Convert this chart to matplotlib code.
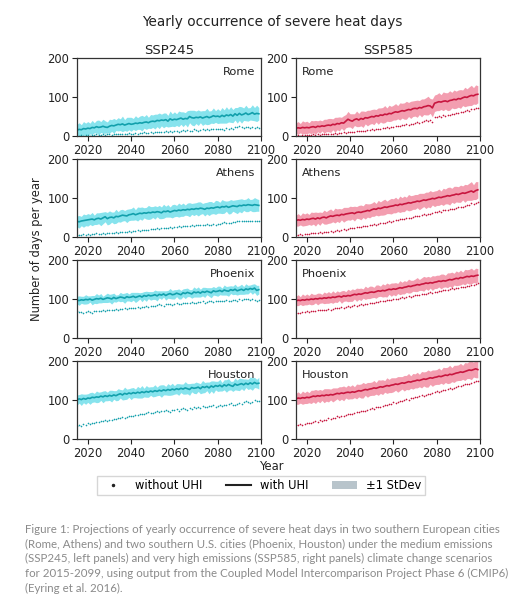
import numpy as np
import matplotlib
matplotlib.use("Agg")
import matplotlib.pyplot as plt
from matplotlib.lines import Line2D
from matplotlib.patches import Patch

# Years 2015-2099
years = np.arange(2015, 2100)

cities = ["Rome", "Athens", "Phoenix", "Houston"]
scenarios = ["SSP245", "SSP585"]

# ---- SSP245 ----
rome_245_uhi = [15, 17, 16, 19, 18,
                20, 19, 22, 21, 24, 22, 23, 25, 23, 22,
                25, 27, 26, 28, 30, 29, 31, 28, 30, 32,
                30, 31, 33, 32, 34, 33, 35, 36, 34, 37,
                38, 37, 40, 39, 41, 40, 42, 38, 44, 41,
                43, 42, 44, 46, 43, 45, 44, 50, 47, 46,
                48, 47, 49, 46, 48, 50, 47, 49, 52, 50,
                51, 49, 53, 50, 54, 52, 55, 51, 57, 53,
                58, 54, 56, 59, 55, 57, 60, 56, 58, 57]
rome_245_no = [1, 0, 2, 1, 3,
               2, 1, 3, 2, 4, 3, 2, 4, 3, 5,
               4, 3, 5, 4, 6, 5, 4, 6, 5, 7,
               6, 5, 7, 6, 8, 7, 9, 8, 7, 9,
               8, 10, 9, 11, 9, 10, 12, 11, 13, 10,
               12, 14, 11, 13, 15, 12, 16, 14, 13, 17,
               15, 14, 16, 18, 15, 17, 16, 19, 17, 18,
               17, 19, 18, 16, 20, 18, 21, 19, 24, 22,
               26, 23, 21, 24, 22, 20, 23, 21, 22, 21]
rome_245_sd = [15, 17, 13, 18, 15,
               17, 14, 18, 13, 16, 19, 14, 18, 16, 14,
               18, 15, 19, 14, 17, 15, 20, 14, 18, 16,
               18, 14, 19, 15, 17, 20, 15, 19, 14, 18,
               16, 19, 16, 20, 15, 19, 17, 15, 20, 16,
               19, 15, 20, 16, 19, 15, 21, 16, 19, 20,
               16, 20, 15, 19, 17, 21, 17, 16, 20, 15,
               19, 16, 20, 17, 21, 16, 20, 17, 16, 20,
               18, 21, 16, 20, 17, 16, 20, 17, 21, 16]

athens_245_uhi = [40, 39, 41, 42, 43,
                  44, 45, 46, 44, 47, 48, 46, 49, 52, 47,
                  50, 51, 49, 53, 52, 54, 56, 55, 54, 57,
                  58, 60, 57, 59, 61, 60, 62, 61, 63, 62,
                  64, 63, 65, 64, 62, 66, 65, 67, 64, 66,
                  68, 67, 69, 68, 70, 69, 71, 70, 72, 71,
                  73, 72, 74, 73, 71, 74, 73, 75, 74, 76,
                  77, 75, 78, 77, 79, 76, 78, 80, 79, 78,
                  81, 80, 82, 81, 83, 82, 81, 83, 82, 81]
athens_245_no = [5, 6, 5, 7, 6,
                 7, 6, 8, 7, 9, 8, 7, 9, 8, 10,
                 9, 11, 10, 12, 11, 13, 12, 14, 13, 15,
                 14, 16, 15, 17, 16, 18, 17, 19, 18, 20,
                 21, 20, 22, 21, 23, 22, 24, 23, 25, 24,
                 26, 25, 27, 26, 28, 27, 29, 28, 30, 29,
                 31, 30, 32, 31, 30, 33, 32, 31, 33, 32,
                 34, 33, 36, 38, 35, 37, 36, 39, 38, 40,
                 41, 40, 42, 41, 40, 42, 41, 40, 41, 40]
athens_245_sd = [14, 16, 12, 17, 14,
                 16, 13, 17, 12, 15, 14, 17, 15, 13, 16,
                 17, 13, 15, 18, 13, 16, 15, 13, 17, 15,
                 15, 17, 13, 18, 15, 17, 13, 15, 18, 16,
                 14, 17, 13, 17, 15, 18, 14, 16, 13, 17,
                 16, 14, 18, 15, 17, 13, 16, 18, 14, 16,
                 15, 18, 16, 13, 17, 15, 18, 16, 14, 18,
                 16, 14, 18, 16, 13, 17, 18, 14, 16, 18,
                 16, 18, 14, 16, 18, 14, 16, 18, 16, 15]

phoenix_245_uhi = [97, 96, 98, 97, 99,
                   98, 100, 97, 99, 101, 100, 102, 99, 101, 103,
                   102, 100, 104, 101, 103, 105, 104, 102, 106, 104,
                   105, 107, 104, 106, 108, 105, 109, 107, 110, 108,
                   109, 111, 108, 112, 110, 113, 109, 112, 114, 111,
                   112, 115, 113, 111, 116, 114, 117, 115, 113, 118,
                   116, 118, 115, 119, 117, 120, 118, 116, 121, 119,
                   120, 122, 119, 123, 121, 120, 124, 122, 125, 121,
                   123, 125, 122, 126, 124, 127, 125, 128, 122, 124]
phoenix_245_no = [68, 66, 67, 65, 66,
                  68, 67, 65, 69, 68, 70, 69, 71, 70, 72,
                  71, 73, 72, 74, 73, 75, 74, 76, 75, 77,
                  76, 78, 77, 79, 78, 80, 79, 81, 80, 82,
                  83, 82, 84, 86, 85, 83, 87, 86, 88, 85,
                  87, 89, 86, 88, 90, 89, 91, 90, 92, 91,
                  90, 93, 92, 94, 91, 93, 95, 94, 92, 96,
                  95, 94, 96, 95, 97, 96, 94, 97, 98, 96,
                  99, 98, 100, 101, 99, 98, 100, 97, 96, 97]
phoenix_245_sd = [10, 12, 9, 10, 12,
                  10, 8, 12, 10, 13, 10, 12, 8, 10, 12,
                  10, 13, 11, 9, 8, 12, 10, 13, 11, 9,
                  12, 10, 13, 11, 8, 12, 10, 13, 9, 11,
                  10, 12, 13, 9, 11, 8, 12, 10, 13, 11,
                  12, 9, 13, 11, 10, 13, 11, 9, 11, 13,
                  11, 13, 10, 11, 13, 9, 11, 13, 11, 10,
                  13, 11, 9, 13, 11, 13, 10, 11, 13, 11,
                  11, 13, 10, 13, 11, 9, 13, 11, 13, 11]

houston_245_uhi = [100, 103, 101, 104, 102,
                   105, 104, 107, 106, 108, 107, 110, 108, 111, 109,
                   112, 110, 113, 111, 114, 116, 113, 117, 115, 118,
                   116, 119, 117, 120, 118, 121, 119, 122, 120, 123,
                   121, 124, 122, 125, 123, 126, 124, 127, 125, 128,
                   126, 129, 127, 130, 128, 131, 129, 127, 132, 130,
                   131, 133, 129, 134, 132, 135, 131, 136, 133, 137,
                   135, 138, 134, 139, 136, 140, 137, 135, 141, 138,
                   140, 142, 139, 143, 140, 144, 141, 145, 142, 143]
houston_245_no = [33, 36, 34, 38, 36,
                  40, 38, 42, 41, 44, 43, 46, 45, 48, 47,
                  50, 48, 52, 51, 54, 53, 56, 55, 57, 59,
                  58, 60, 62, 61, 63, 65, 64, 66, 68, 67,
                  66, 69, 71, 70, 72, 71, 74, 73, 70, 75,
                  74, 76, 73, 77, 79, 78, 75, 80, 78, 81,
                  80, 82, 79, 84, 83, 81, 85, 84, 86, 83,
                  85, 87, 84, 88, 86, 89, 92, 88, 86, 90,
                  93, 91, 95, 98, 94, 92, 96, 99, 97, 98]
houston_245_sd = [13, 11, 15, 11, 13,
                  11, 15, 13, 11, 15, 13, 11, 15, 13, 11,
                  13, 15, 11, 13, 15, 11, 13, 16, 13, 11,
                  15, 13, 11, 15, 13, 16, 11, 15, 13, 11,
                  13, 15, 11, 13, 16, 13, 11, 15, 13, 15,
                  11, 13, 15, 11, 13, 16, 13, 15, 11, 13,
                  15, 11, 13, 16, 13, 11, 15, 13, 16, 11,
                  13, 15, 11, 13, 16, 15, 11, 13, 15, 13,
                  16, 13, 15, 11, 13, 15, 16, 13, 11, 15]

# ---- SSP585 ----
rome_585_uhi = [20, 21, 20, 22, 21,
                22, 21, 23, 24, 22, 25, 24, 26, 25, 27,
                28, 27, 30, 29, 32, 31, 34, 33, 38, 43,
                40, 38, 42, 44, 41, 45, 43, 47, 46, 48,
                50, 49, 52, 51, 54, 53, 56, 55, 58, 57,
                60, 62, 61, 63, 65, 64, 66, 68, 67, 70,
                71, 70, 73, 72, 75, 76, 78, 77, 72, 84,
                86, 88, 87, 89, 90, 88, 91, 92, 94, 93,
                96, 95, 98, 100, 99, 102, 104, 103, 106, 107]
rome_585_no = [1, 2, 1, 2, 3,
               2, 3, 2, 4, 3, 4, 3, 5, 4, 5,
               4, 6, 5, 7, 6, 8, 7, 9, 8, 10,
               9, 11, 10, 12, 13, 12, 14, 13, 15, 16,
               17, 16, 18, 19, 18, 20, 21, 22, 21, 23,
               24, 25, 26, 25, 27, 28, 30, 29, 31, 32,
               33, 35, 34, 37, 38, 40, 39, 42, 36, 50,
               48, 51, 50, 53, 52, 55, 54, 57, 56, 59,
               60, 62, 61, 64, 66, 65, 70, 68, 71, 73]
rome_585_sd = [14, 16, 12, 17, 15,
               16, 13, 17, 15, 18, 14, 17, 13, 18, 16,
               17, 18, 14, 19, 16, 18, 14, 19, 17, 20,
               17, 19, 15, 20, 17, 19, 21, 16, 20, 18,
               18, 20, 16, 21, 18, 20, 22, 17, 21, 19,
               19, 21, 17, 22, 19, 21, 23, 18, 22, 20,
               20, 22, 18, 23, 20, 22, 24, 19, 23, 21,
               21, 23, 19, 24, 21, 23, 25, 20, 24, 22,
               22, 24, 20, 25, 22, 24, 26, 21, 25, 22]

athens_585_uhi = [42, 44, 43, 45, 44,
                  46, 45, 47, 48, 46, 49, 47, 50, 51, 49,
                  52, 54, 53, 55, 56, 55, 58, 57, 59, 60,
                  61, 62, 60, 63, 64, 63, 65, 66, 68, 67,
                  70, 72, 71, 74, 73, 75, 77, 76, 78, 79,
                  80, 82, 81, 84, 83, 85, 86, 88, 87, 89,
                  90, 92, 91, 93, 95, 94, 96, 97, 99, 98,
                  100, 102, 101, 103, 104, 106, 105, 107, 108, 110,
                  109, 111, 113, 112, 114, 116, 118, 115, 119, 121]
athens_585_no = [6, 5, 7, 6, 8,
                 7, 8, 10, 9, 11, 10, 12, 11, 13, 14,
                 13, 15, 14, 16, 17, 16, 18, 20, 19, 21,
                 22, 24, 23, 25, 26, 25, 27, 29, 28, 30,
                 31, 33, 32, 34, 35, 37, 36, 38, 40, 39,
                 41, 43, 44, 46, 45, 47, 49, 48, 50, 52,
                 53, 55, 54, 56, 58, 57, 60, 59, 62, 63,
                 64, 66, 65, 68, 70, 69, 71, 73, 72, 75,
                 76, 78, 77, 80, 82, 81, 86, 85, 88, 89]
athens_585_sd = [14, 16, 12, 17, 15,
                 16, 13, 17, 15, 18, 14, 17, 13, 18, 16,
                 17, 18, 14, 19, 16, 18, 14, 19, 17, 16,
                 18, 16, 19, 15, 17, 19, 15, 20, 17, 18,
                 17, 19, 15, 20, 17, 19, 20, 16, 18, 20,
                 18, 20, 16, 21, 18, 20, 16, 21, 19, 18,
                 19, 17, 21, 19, 17, 21, 19, 22, 17, 20,
                 19, 21, 17, 22, 19, 21, 23, 18, 22, 20,
                 20, 22, 18, 23, 20, 22, 24, 19, 23, 21]

phoenix_585_uhi = [95, 97, 96, 98, 97,
                   99, 98, 100, 99, 101, 100, 102, 101, 103, 102,
                   104, 103, 105, 104, 106, 107, 105, 108, 107, 109,
                   108, 110, 112, 111, 113, 112, 114, 116, 115, 117,
                   118, 117, 119, 121, 120, 122, 121, 123, 125, 124,
                   126, 125, 127, 129, 128, 130, 131, 133, 132, 134,
                   135, 137, 136, 138, 139, 141, 140, 142, 141, 143,
                   144, 146, 145, 147, 146, 148, 150, 149, 151, 153,
                   152, 155, 154, 156, 158, 157, 159, 158, 160, 161]
phoenix_585_no = [63, 65, 64, 66, 67,
                  68, 67, 69, 70, 69, 71, 72, 71, 73, 72,
                  74, 73, 75, 76, 78, 77, 79, 78, 80, 81,
                  80, 82, 84, 83, 85, 86, 85, 87, 88, 90,
                  89, 91, 93, 92, 94, 95, 94, 97, 98, 97,
                  99, 101, 100, 102, 104, 103, 105, 107, 106, 108,
                  109, 111, 110, 112, 114, 113, 115, 117, 116, 118,
                  119, 121, 120, 122, 124, 123, 125, 127, 126, 128,
                  129, 131, 130, 132, 134, 133, 136, 135, 138, 140]
phoenix_585_sd = [12, 14, 10, 15, 12,
                  14, 11, 15, 13, 11, 15, 13, 11, 15, 13,
                  15, 12, 16, 12, 15, 11, 16, 14, 12, 16,
                  14, 16, 12, 17, 14, 16, 12, 17, 14, 16,
                  15, 13, 17, 15, 13, 17, 15, 18, 13, 17,
                  15, 17, 13, 18, 15, 17, 14, 18, 16, 14,
                  16, 18, 14, 16, 19, 15, 18, 14, 19, 16,
                  17, 15, 19, 17, 15, 19, 17, 20, 15, 19,
                  17, 19, 15, 20, 17, 19, 20, 16, 19, 17]

houston_585_uhi = [103, 105, 104, 106, 105,
                   107, 106, 108, 110, 109, 111, 110, 112, 111, 113,
                   112, 114, 113, 115, 117, 116, 118, 117, 119, 120,
                   119, 121, 120, 122, 124, 123, 125, 127, 126, 128,
                   129, 131, 130, 132, 134, 133, 135, 137, 136, 138,
                   139, 141, 140, 142, 144, 143, 145, 147, 146, 148,
                   149, 151, 150, 152, 154, 153, 155, 157, 156, 158,
                   159, 161, 160, 162, 164, 163, 166, 165, 167, 169,
                   170, 172, 171, 173, 175, 177, 176, 178, 180, 178]
houston_585_no = [37, 36, 38, 37, 39,
                  40, 42, 41, 44, 46, 43, 48, 47, 50, 49,
                  53, 52, 55, 54, 58, 57, 60, 59, 62, 63,
                  65, 64, 67, 69, 68, 71, 73, 72, 75, 77,
                  79, 78, 81, 83, 82, 85, 87, 86, 89, 91,
                  94, 92, 96, 98, 97, 100, 102, 101, 104, 106,
                  108, 107, 110, 112, 111, 114, 116, 115, 118, 120,
                  122, 121, 124, 126, 125, 128, 130, 129, 132, 134,
                  136, 135, 138, 140, 142, 141, 144, 146, 149, 150]
houston_585_sd = [14, 16, 12, 17, 14,
                  16, 13, 17, 15, 18, 14, 17, 13, 18, 16,
                  17, 14, 18, 16, 14, 18, 16, 19, 14, 18,
                  16, 18, 14, 19, 16, 18, 20, 15, 19, 17,
                  17, 19, 15, 20, 17, 19, 15, 20, 17, 19,
                  18, 16, 20, 18, 16, 20, 18, 21, 16, 20,
                  18, 20, 16, 21, 18, 20, 22, 17, 21, 19,
                  19, 21, 17, 22, 19, 21, 23, 18, 22, 20,
                  20, 22, 18, 23, 20, 22, 24, 19, 23, 21]

panels = {
    ("Rome", "SSP245"): (rome_245_uhi, rome_245_no, rome_245_sd),
    ("Athens", "SSP245"): (athens_245_uhi, athens_245_no, athens_245_sd),
    ("Phoenix", "SSP245"): (phoenix_245_uhi, phoenix_245_no, phoenix_245_sd),
    ("Houston", "SSP245"): (houston_245_uhi, houston_245_no, houston_245_sd),
    ("Rome", "SSP585"): (rome_585_uhi, rome_585_no, rome_585_sd),
    ("Athens", "SSP585"): (athens_585_uhi, athens_585_no, athens_585_sd),
    ("Phoenix", "SSP585"): (phoenix_585_uhi, phoenix_585_no, phoenix_585_sd),
    ("Houston", "SSP585"): (houston_585_uhi, houston_585_no, houston_585_sd),
}

# colours: (line, band)
colors = {"SSP245": ("#12a0ac", "#72dfea"),
          "SSP585": ("#c8163f", "#f28da3")}

fig = plt.figure(figsize=(5.23, 6.01), dpi=100)

col_x = [77 / 523, 296 / 523]
ax_w = 184 / 523
ax_h = 78 / 601
row_top = [58, 159, 260, 361]

for j, sc in enumerate(scenarios):
    line_c, band_c = colors[sc]
    for i, city in enumerate(cities):
        bottom = 1 - (row_top[i] + 78) / 601
        ax = fig.add_axes([col_x[j], bottom, ax_w, ax_h])
        uhi, no, sd = (np.array(v, dtype=float) for v in panels[(city, sc)])
        ax.fill_between(years, uhi - sd, uhi + sd, color=band_c, alpha=0.85,
                        lw=0)
        ax.plot(years, uhi, color=line_c, lw=1.2)
        ax.plot(years, no, ls="none", marker="o", ms=1.2, color=line_c,
                mec="none")
        ax.set_xlim(2015, 2100)
        ax.set_ylim(0, 200)
        ax.set_xticks([2020, 2040, 2060, 2080, 2100])
        ax.set_yticks([0, 100, 200])
        ax.tick_params(labelsize=8.3, length=3.5, width=0.8, pad=2,
                       colors="#222222")
        for s in ax.spines.values():
            s.set_color("#333333")
            s.set_linewidth(0.9)
        if j == 0:
            ax.text(0.97, 0.88, city, transform=ax.transAxes, ha="right",
                    va="top", fontsize=8.2, color="#222222")
        else:
            ax.text(0.03, 0.88, city, transform=ax.transAxes, ha="left",
                    va="top", fontsize=8.2, color="#222222")
        if i == 0:
            ax.set_title(sc, fontsize=9.5, pad=3, color="#222222")

fig.text(0.52, 1 - 22 / 601, "Yearly occurrence of severe heat days",
         ha="center", va="center", fontsize=9.8, color="#222222")
fig.text(37 / 523, 1 - 249 / 601, "Number of days per year", rotation=90,
         ha="center", va="center", fontsize=8.3, color="#222222")
fig.text(272 / 523, 1 - 467 / 601, "Year", ha="center", va="center",
         fontsize=8.3, color="#222222")

handles = [Line2D([], [], ls="none", marker="o", ms=1.5, color="#222222"),
           Line2D([], [], color="#222222", lw=1.5),
           Patch(facecolor="#b8c4cb", edgecolor="none")]
fig.legend(handles, ["without UHI", "with UHI", "\u00b11 StDev"],
           loc="center", bbox_to_anchor=(261 / 523, 1 - 485.5 / 601),
           ncol=3, fontsize=8.3, frameon=True, handlelength=2.2,
           columnspacing=2.0, handletextpad=0.8, borderpad=0.3,
           edgecolor="#cccccc", fancybox=False)

caption = ("Figure 1: Projections of yearly occurrence of severe heat days in two southern European cities\n"
           "(Rome, Athens) and two southern U.S. cities (Phoenix, Houston) under the medium emissions\n"
           "(SSP245, left panels) and very high emissions (SSP585, right panels) climate change scenarios\n"
           "for 2015-2099, using output from the Coupled Model Intercomparison Project Phase 6 (CMIP6)\n"
           "(Eyring et al. 2016).")
fig.text(25 / 523, 1 - 524 / 601, caption, ha="left", va="top",
         fontsize=8.25, color="#8a8a8a", family="Lato", linespacing=1.4)

fig.savefig("out.png", dpi=100)
